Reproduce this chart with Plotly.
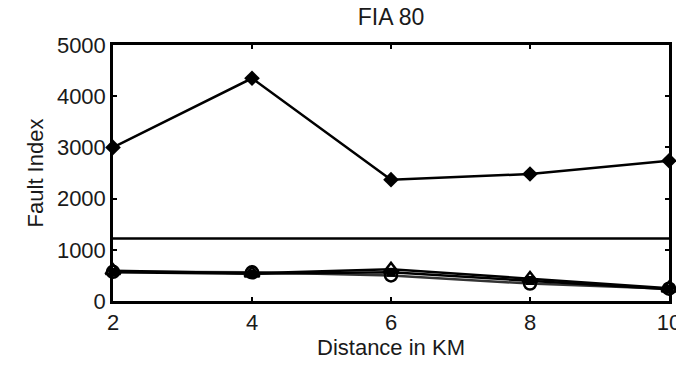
import plotly.graph_objects as go

distance_km = [2, 4, 6, 8, 10]
fia_diamond = [3000, 4350, 2370, 2480, 2740]
fia_triangle = [590, 540, 620, 440, 250]
fia_circle = [570, 560, 500, 340, 240]
fia_square = [560, 530, 560, 400, 230]
threshold_value = 1220
x_ticks = [2, 4, 6, 8, 10]
y_ticks = [0, 1000, 2000, 3000, 4000, 5000]

FONT = "Liberation Sans, Arial, sans-serif"
TXT = "#1a1a1a"

fig = go.Figure()

fig.add_trace(go.Scatter(
    x=[distance_km[0], distance_km[-1]], y=[threshold_value, threshold_value],
    mode="lines", line=dict(color="black", width=2.5), showlegend=False, hoverinfo="skip",
    cliponaxis=False))

fig.add_trace(go.Scatter(
    x=distance_km, y=fia_circle, mode="lines+markers",
    line=dict(color="#333333", width=2.5),
    marker=dict(symbol="circle-open", size=12, color="black", line=dict(width=2.5)),
    showlegend=False, cliponaxis=False))
fig.add_trace(go.Scatter(
    x=distance_km, y=fia_square, mode="lines+markers",
    line=dict(color="black", width=2.5),
    marker=dict(symbol="square", size=9, color="black"),
    showlegend=False, cliponaxis=False))
fig.add_trace(go.Scatter(
    x=distance_km, y=fia_triangle, mode="lines+markers",
    line=dict(color="black", width=2.5),
    marker=dict(symbol="triangle-up-open", size=13, color="black", line=dict(width=2.5)),
    showlegend=False, cliponaxis=False))
fig.add_trace(go.Scatter(
    x=distance_km, y=fia_diamond, mode="lines+markers",
    line=dict(color="black", width=2.5),
    marker=dict(symbol="diamond", size=12, color="black"),
    showlegend=False, cliponaxis=False))

axis_common = dict(
    showline=True, linecolor="black", linewidth=2.5, mirror="ticks",
    ticks="inside", ticklen=4, tickwidth=2, tickcolor="black",
    showgrid=False, zeroline=False, automargin=False,
    ticklabeloverflow="allow",
    tickfont=dict(family=FONT, size=22, color=TXT),
)

fig.update_layout(
    width=676, height=367,
    margin=dict(l=113, r=7, t=45, b=66, autoexpand=False),
    paper_bgcolor="white", plot_bgcolor="white",
    title=dict(text="FIA 80", x=0.5, xanchor="center", xref="paper",
               y=0.955, yanchor="middle",
               font=dict(family=FONT, size=23, color=TXT)),
    xaxis=dict(range=[2, 10], tickvals=x_ticks, ticktext=[str(v) for v in x_ticks],
               title=dict(text="Distance in KM", standoff=4,
                          font=dict(family=FONT, size=22, color=TXT)),
               **axis_common),
    yaxis=dict(range=[0, 5000], tickvals=y_ticks, ticktext=[str(v) for v in y_ticks],
               ticklabelstandoff=0,
               title=dict(text="Fault Index", standoff=8,
                          font=dict(family=FONT, size=22, color=TXT)),
               **axis_common),
)

fig.write_html(
    "out.html",
    config={"displayModeBar": False},
    post_script="document.body.style.margin='0';document.body.style.overflow='hidden';",
)
